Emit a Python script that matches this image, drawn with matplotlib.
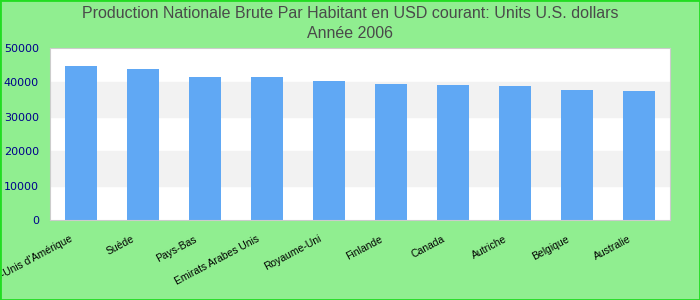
import matplotlib
matplotlib.use("Agg")
import matplotlib.pyplot as plt
import matplotlib.transforms as mtransforms
from matplotlib.patches import Rectangle

pays = ["Etats-Unis d'Amérique", "Suède", "Pays-Bas", "Emirats Arabes Unis",
        "Royaume-Uni", "Finlande", "Canada", "Autriche", "Belgique", "Australie"]
valeurs = [44800, 43900, 41600, 41600, 40400, 39500, 39200, 38900, 37800, 37500]
yticks = [0, 10000, 20000, 30000, 40000, 50000]

fig = plt.figure(figsize=(7, 3), dpi=100, facecolor="#90ee90")
ax = fig.add_axes([50 / 700, 80 / 300, 620 / 700, 172 / 300])
ax.set_facecolor("white")

# bandes alternées
for i in range(len(yticks) - 1):
    if i % 2 == 1:
        ax.axhspan(yticks[i], yticks[i + 1], color="#f2f2f2", zorder=0)

x = range(len(pays))
ax.bar(x, valeurs, width=0.52, color="#60a8f4", zorder=2)

ax.set_xlim(-0.5, len(pays) - 0.5)
ax.set_ylim(0, 50000)
ax.set_yticks(yticks)
ax.set_yticklabels([str(v) for v in yticks], color="#00008b", fontsize=8)
ax.set_xticks(list(x))
ax.set_xticklabels(pays, rotation=28, ha="right", rotation_mode="anchor",
                   fontsize=7.5, family="Liberation Sans")
ax.tick_params(axis="both", length=0)
ax.tick_params(axis="y", pad=8)
ax.tick_params(axis="x", pad=10)

decal = mtransforms.ScaledTranslation(-8 / 72, 0, fig.dpi_scale_trans)
for lab in ax.get_xticklabels():
    lab.set_transform(lab.get_transform() + decal)

for s in ax.spines.values():
    s.set_color("#cccccc")

fig.text(0.5, 1 - 13 / 300, "Production Nationale Brute Par Habitant en USD courant: Units U.S. dollars",
         ha="center", va="center", fontsize=11.5, color="#4a4a4a", family="Liberation Sans")
fig.text(0.5, 1 - 33 / 300, "Année 2006", ha="center", va="center",
         fontsize=11.5, color="#4a4a4a", family="Liberation Sans")

fig.patches.append(Rectangle((0, 0), 1, 1, transform=fig.transFigure, fill=False,
                             edgecolor="#22dd22", linewidth=2))

fig.savefig("out.png", dpi=100, facecolor=fig.get_facecolor())
